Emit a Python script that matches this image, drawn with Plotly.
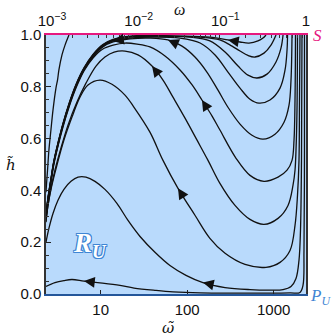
import numpy as np
import plotly.graph_objects as go

# streamlines: omega-tilde (log axis) and h-tilde
a_w = [2.33, 2.96, 3.76, 4.66, 6.41, 9.82, 16.7, 24.3, 42.4, 68.5, 141, 532, 1544, 2013, 2180, 2239, 2268, 2268]
a_h = [0.029, 0.044, 0.052, 0.056, 0.050, 0.043, 0.033, 0.023, 0.014, 0.008, 0.004, 0.003, 0.004, 0.006, 0.033, 0.168, 0.555, 1.0]

b_w = [2.33, 2.52, 2.81, 3.21, 3.76, 4.54, 5.47, 6.76, 8.59, 11.2, 15.4, 20.7, 28.5, 42.4, 63.2, 96.9, 152, 274, 532, 906,
       1282, 1585, 1810, 1960, 2040, 2095, 2123]
b_h = [0.199, 0.253, 0.311, 0.362, 0.404, 0.435, 0.451, 0.451, 0.435, 0.404, 0.350, 0.284, 0.222, 0.161, 0.110, 0.072,
       0.044, 0.025, 0.017, 0.015, 0.017, 0.029, 0.060, 0.130, 0.246, 0.516, 1.0]

c_w = [2.33, 2.46, 2.73, 3.12, 3.76, 4.66, 5.76, 7.13, 9.82, 13.5, 19.1, 24.3, 37.1, 52.5, 78.3, 123, 183, 274, 466, 814,
       1183, 1544, 1763, 1884, 1960, 1986, 2013]
c_h = [0.277, 0.342, 0.420, 0.497, 0.594, 0.683, 0.760, 0.807, 0.826, 0.810, 0.768, 0.721, 0.625, 0.516, 0.408, 0.304,
       0.215, 0.157, 0.114, 0.103, 0.122, 0.168, 0.265, 0.381, 0.516, 0.749, 1.0]

e_w = [2.33, 2.46, 2.66, 2.96, 3.47, 4.19, 5.32, 6.76, 8.83, 11.2, 14.3, 19.1, 27.0, 39.2, 52.5, 68.5, 94.4, 130, 174, 239,
       357, 532, 772, 1122, 1464, 1672, 1763, 1810, 1859, 1884]
e_h = [0.280, 0.342, 0.408, 0.478, 0.563, 0.652, 0.741, 0.814, 0.880, 0.915, 0.934, 0.938, 0.923, 0.880, 0.826, 0.760,
       0.679, 0.594, 0.516, 0.427, 0.342, 0.288, 0.269, 0.292, 0.342, 0.420, 0.478, 0.555, 0.710, 1.0]

f_w = [2.33, 2.46, 2.66, 2.88, 3.21, 3.66, 4.30, 5.18, 6.41, 8.15, 10.6, 13.9, 19.1, 26.3, 37.1, 55.4, 82.6, 114, 148, 194,
       239, 367, 532, 772, 1122, 1426, 1628, 1717, 1763, 1786]
f_h = [0.288, 0.358, 0.431, 0.501, 0.571, 0.644, 0.721, 0.795, 0.861, 0.911, 0.946, 0.961, 0.969, 0.965, 0.954, 0.919,
       0.865, 0.807, 0.749, 0.687, 0.633, 0.524, 0.458, 0.435, 0.451, 0.478, 0.516, 0.594, 0.749, 1.0]

g_w = [2.33, 2.46, 2.66, 2.88, 3.21, 3.66, 4.30, 5.18, 6.41, 8.15, 10.6, 13.9, 21.8, 37.1, 60.0, 87.1, 123, 169, 227, 296,
       408, 561, 752, 1035, 1316, 1503, 1585, 1628]
g_h = [0.292, 0.362, 0.435, 0.505, 0.574, 0.648, 0.725, 0.799, 0.865, 0.915, 0.954, 0.973, 0.985, 0.988, 0.981, 0.957,
       0.915, 0.857, 0.787, 0.721, 0.656, 0.613, 0.598, 0.617, 0.663, 0.729, 0.826, 1.0]

h_w = [2.33, 2.46, 2.66, 2.88, 3.21, 3.66, 4.30, 5.18, 6.41, 8.15, 10.6, 13.9, 21.8, 42.4, 82.6, 141, 210, 296, 408, 532,
       676, 906, 1183, 1352, 1426, 1445]
h_h = [0.296, 0.366, 0.439, 0.509, 0.578, 0.652, 0.729, 0.803, 0.867, 0.919, 0.957, 0.977, 0.988, 0.992, 0.988, 0.969,
       0.923, 0.857, 0.795, 0.752, 0.737, 0.749, 0.795, 0.865, 0.942, 1.0]

i_w = [2.33, 2.46, 2.66, 2.88, 3.21, 3.66, 4.30, 5.18, 6.41, 8.15, 10.6, 13.9, 21.8, 48.5, 108, 183, 274, 387, 504, 641,
       836, 1063, 1215, 1282]
i_h = [0.298, 0.368, 0.441, 0.511, 0.580, 0.654, 0.731, 0.805, 0.869, 0.921, 0.959, 0.979, 0.992, 0.996, 0.992, 0.977,
       0.934, 0.880, 0.845, 0.834, 0.849, 0.896, 0.950, 1.0]

j_w = [2.33, 2.46, 2.66, 2.88, 3.21, 3.66, 4.30, 5.18, 6.41, 8.15, 10.6, 13.9, 21.8, 63.2, 141, 239, 330, 408, 504, 608,
       772, 930, 1063]
j_h = [0.300, 0.370, 0.443, 0.513, 0.582, 0.656, 0.733, 0.807, 0.871, 0.923, 0.961, 0.981, 0.994, 0.996, 0.992, 0.981,
       0.957, 0.938, 0.921, 0.915, 0.930, 0.961, 1.0]

k_w = [2.33, 2.46, 2.66, 2.88, 3.21, 3.66, 4.30, 5.18, 6.41, 8.15, 10.6, 13.9, 21.8, 82.6, 183, 296, 408, 518, 658, 752, 814]
k_h = [0.302, 0.372, 0.445, 0.515, 0.584, 0.658, 0.735, 0.809, 0.873, 0.925, 0.963, 0.983, 0.996, 0.996, 0.992, 0.981,
       0.973, 0.969, 0.977, 0.988, 1.0]

l_w = [4.30, 3.87, 3.57, 3.29, 3.17, 3.04, 2.81, 2.66, 2.52, 2.43, 2.36, 2.33]
l_h = [1.0, 0.961, 0.923, 0.865, 0.826, 0.795, 0.710, 0.633, 0.555, 0.478, 0.420, 0.393]

curves = {"A": (a_w, a_h), "B": (b_w, b_h), "C": (c_w, c_h), "E": (e_w, e_h), "F": (f_w, f_h),
          "G": (g_w, g_h), "H": (h_w, h_h), "I": (i_w, i_h), "J": (j_w, j_h), "K": (k_w, k_h), "L": (l_w, l_h)}

# arrows: (curve, from index, to index) -> head sits at "to"
arrows = [("A", 5, 4), ("B", 17, 16), ("C", 15, 14), ("E", 14, 13), ("F", 19, 18),
          ("G", 15, 14), ("H", 12, 11), ("J", 18, 17), ("K", 16, 15), ("L", 3, 4)]

top_ticks = [0.001, 0.01, 0.1, 1]
top_exps = ["\u22123", "\u22122", "\u22121", None]
bottom_ticks = [10, 100, 1000]
bottom_labels = ["10", "100", "1000"]

BG = "#b9dafc"
MAGENTA = "#e6197f"
NAVY = "#24569a"
LBLUE = "#3f86d4"

# keep the mantissa centred on the tick, like the original (invisible twin exponent on the left)
top_labels = []
for e in top_exps:
    if e is None:
        top_labels.append("1")
    else:
        top_labels.append(f"<sup><span style='color:rgba(0,0,0,0)'>{e}</span></sup>10<sup>{e}</sup>")

fig = go.Figure()
for name, (w, h) in curves.items():
    fig.add_trace(go.Scatter(x=w, y=h, mode="lines", line=dict(color="#111", width=1.3, shape="spline", smoothing=1.0),
                             showlegend=False, hoverinfo="skip"))

# dummy trace so the top axis exists
fig.add_trace(go.Scatter(x=[0.01], y=[0.5], xaxis="x2", mode="markers", marker=dict(opacity=0), showlegend=False,
                         hoverinfo="skip"))

for name, i0, i1 in arrows:
    w, h = curves[name]
    hx, hy = np.log10(w[i1]), h[i1]
    tx, ty = np.log10(w[i0]), h[i0]
    tx = hx + 0.4 * (tx - hx)
    ty = hy + 0.4 * (ty - hy)
    fig.add_annotation(x=hx, y=hy, ax=tx, ay=ty, xref="x", yref="y", axref="x", ayref="y", text="",
                       showarrow=True, arrowhead=2, arrowsize=1.8, arrowwidth=1.2, arrowcolor="#111")

tickfont = dict(family="Liberation Sans", size=15, color="#111")
fig.update_layout(
    width=332, height=336, autosize=False,
    margin=dict(l=46, r=26, t=35, b=42, autoexpand=False),
    paper_bgcolor="white", plot_bgcolor=BG,
    xaxis=dict(type="log", range=[np.log10(2.333), np.log10(2362)], tickvals=bottom_ticks, ticktext=bottom_labels,
               ticks="inside", ticklen=4, tickcolor="#222", showgrid=False, zeroline=False, automargin=False,
               ticklabelstandoff=1,
               showline=True, linecolor=NAVY, linewidth=2, tickfont=tickfont),
    xaxis2=dict(type="log", range=[-3, 0], overlaying="x", side="top", anchor="y", automargin=False,
                tickvals=top_ticks, ticktext=top_labels, ticks="inside", ticklen=4, tickcolor="#222",
                ticklabelstandoff=1,
                minor=dict(ticks="inside", ticklen=3, tickcolor="#333",
                           tickvals=[k * 10.0 ** e for e in (-3, -2, -1) for k in range(2, 10)]),
                showgrid=False, zeroline=False, showline=True, linecolor=MAGENTA, linewidth=2, tickfont=tickfont),
    yaxis=dict(range=[0, 1], dtick=0.2, tickformat=".1f", ticks="inside", ticklen=5, tickcolor="#222",
               minor=dict(ticks="inside", ticklen=3, dtick=0.05, tickcolor="#333"), automargin=False,
               showgrid=False, zeroline=False, showline=True, linecolor="#333", linewidth=1.5, mirror=True,
               tickfont=tickfont),
)

serif = "Liberation Serif"
labels = [
    (0.515, 1.10, "<i>\u03c9</i>", 16, "#111", serif),
    (0.469, -0.131, "<i>\u03c9\u0303</i>", 15, "#111", "DejaVu Serif"),
    (-0.135, 0.498, "<i>h\u0303</i>", 15, "#111", "DejaVu Serif"),
    (1.046, 1.0, "<i>S</i>", 17, MAGENTA, serif),
    (1.054, -0.01, "<i>P<sub>U</sub></i>", 17, LBLUE, serif),
]
for x, y, txt, size, col, fam in labels:
    fig.add_annotation(xref="paper", yref="paper", x=x, y=y, text=txt, showarrow=False,
                       xanchor="center", yanchor="middle", font=dict(family=fam, size=size, color=col))

outline = ", ".join(f"{dx}px {dy}px 0 {LBLUE}" for dx in (-1, 0, 1) for dy in (-1, 0, 1) if dx or dy)
fig.add_annotation(xref="paper", yref="paper", x=0.169, y=0.189, text="R<sub>U</sub>", showarrow=False,
                   xanchor="center", yanchor="middle",
                   font=dict(family=serif, size=27, color="white", weight="bold", style="italic", shadow=outline))

# the page body has a default 8px margin; drop it so the figure fills the window exactly
fig.write_html("out.html", config={"displayModeBar": False},
               post_script="document.body.style.margin='0';")
